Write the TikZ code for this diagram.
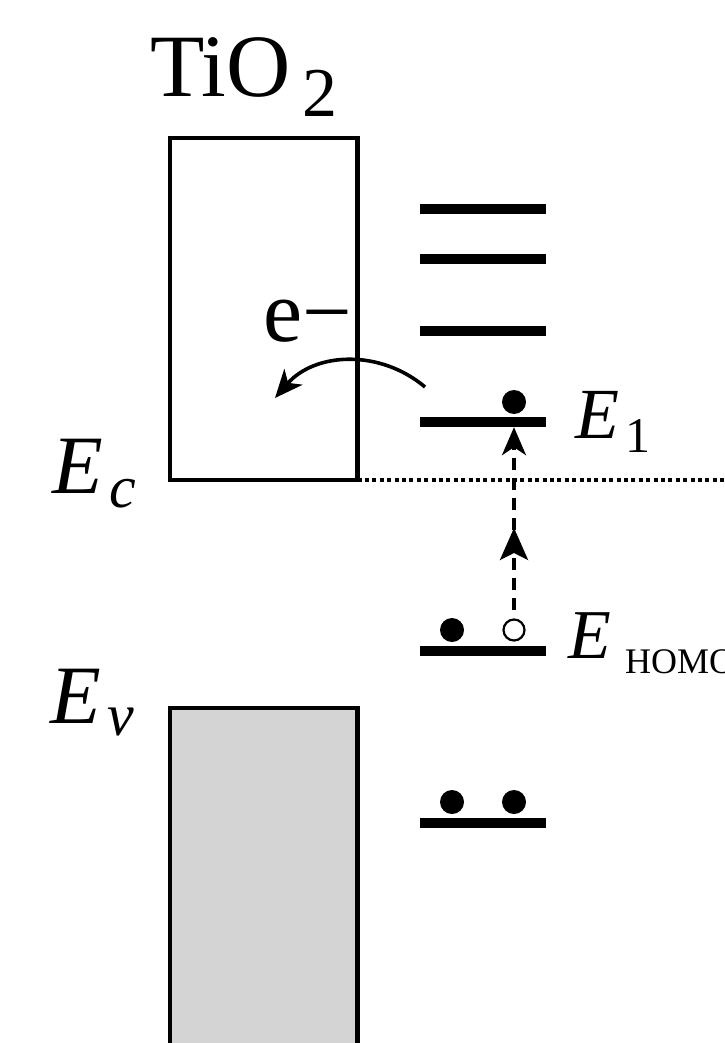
\documentclass[tikz,border=0pt]{standalone}
\usepackage{fontspec}
\setmainfont{Liberation Serif}
\usetikzlibrary{arrows.meta,decorations.markings}
\definecolor{BandGray}{HTML}{D4D4D4}
\newcommand{\FS}[1]{\fontsize{#1}{#1}\selectfont}

\begin{document}
\begin{tikzpicture}[x=0.5pt,y=-0.5pt,
  band/.style={draw,line width=2.2pt,inner sep=0pt,outer sep=0pt,minimum width=93.75pt},
  level/.style={fill=black,inner sep=0pt,outer sep=0pt,minimum width=63pt,minimum height=5.2pt},
  dot/.style={circle,fill=black,inner sep=0pt,minimum size=12pt},
  hole/.style={circle,draw,fill=white,line width=1.1pt,inner sep=0pt,minimum size=10.5pt},
  txt/.style={inner sep=0pt,anchor=base west},
  tip/.style={-{Stealth[length=14pt,width=12pt,inset=4pt]}},
]
\useasboundingbox (0,0) rectangle (724,1043);
\clip (0,0) rectangle (724,1043);
\node[band,minimum height=171pt] (cb) at (263.75,309) {};
\node[band,fill=BandGray,minimum height=200pt] (vb) at (263.75,908) {};
\foreach \y/\n in {209/a,259/b,331/c}
  \node[level] (l\n) at (483,\y) {};
\node[level] (l1) at (483,422) {};
\node[level] (lh) at (483,651) {};
\node[level] (ll) at (483,823) {};
\node[dot] (d1) at (514,402) {};
\node[dot] (dh) at (452,630) {};
\node[hole] (ho) at (514,630) {};
\node[dot] (dla) at (452,802) {};
\node[dot] (dlb) at (514,802) {};
\coordinate (rim) at (724,480);
\draw[line width=1.6pt,dash pattern=on 2pt off 1.7pt] (cb.south east) -- (rim);
\draw[line width=1.8pt,dash pattern=on 6pt off 4pt,tip,
  postaction={decorate},
  decoration={markings,mark=at position 0.45 with {\arrow{Stealth[length=16pt,width=14pt,inset=3.5pt]}}}]
  ([yshift=4pt]ho.north) -- (ho |- l1.south);
\coordinate (eA) at (425,387);
\coordinate (eB) at (275,398);
\draw[tip,line width=1.8pt] (eA) .. controls (380,349) and (315,352) .. (eB);
\node[txt] (tio) at (150,97) {\FS{44.5}TiO\kern6pt\raisebox{-10pt}{\FS{35}2}};
\node[txt] (em) at (263,341) {\FS{44}e−};
\node[txt] (ec) at (52,493) {\FS{41.5}\itshape E\kern3pt\raisebox{-7pt}{\FS{30}c}};
\node[txt] (ev) at (50,723) {\FS{41.5}\itshape E\kern3pt\raisebox{-6pt}{\FS{30}v}};
\node[txt] (e1) at (575,438) {\FS{36}\itshape E\kern3pt\raisebox{-7pt}{\FS{25}\upshape 1}};
\node[txt] (eh) at (568,658) {\FS{35}\itshape E\kern7pt\raisebox{-7.5pt}{\FS{18}\upshape HOMO}};
\end{tikzpicture}
\end{document}
